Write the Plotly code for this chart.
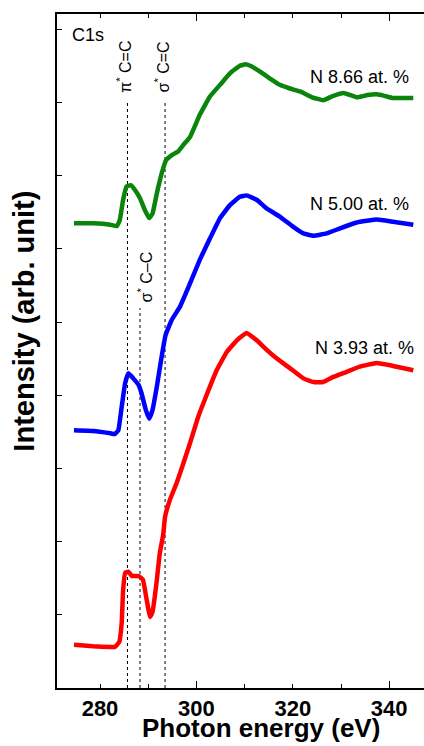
import plotly.graph_objects as go

# ---- data (arbitrary intensity units, offset spectra) ----
green_x = [274.6, 278.6, 282.1, 283.5, 284.1, 284.8, 285.5, 286.4, 287.3, 288.3, 289.3, 290.2, 290.9,
           291.8, 292.8, 293.7, 294.9, 296.2, 297.3, 298.7, 300.7, 302.8, 304.9, 307.0, 309.0, 310.2,
           311.5, 313.2, 315.2, 317.3, 319.4, 321.5, 324.0, 326.3, 328.4, 330.5, 332.0, 333.3, 335.5,
           337.4, 339.0, 340.8, 343.0, 345.0]
green_y = [6.35, 6.35, 6.33, 6.31, 6.39, 6.67, 6.85, 6.87, 6.80, 6.69, 6.53, 6.42, 6.48,
           6.76, 7.03, 7.21, 7.28, 7.33, 7.42, 7.53, 7.83, 8.08, 8.24, 8.40, 8.50, 8.52,
           8.49, 8.42, 8.33, 8.24, 8.19, 8.15, 8.07, 8.03, 8.09, 8.13, 8.10, 8.07, 8.10,
           8.11, 8.09, 8.06, 8.06, 8.06]

blue_x = [274.6, 278.6, 282.1, 283.1, 283.8, 284.5, 285.2, 285.9, 286.9, 288.0, 288.6, 289.5, 290.2,
          290.9, 291.8, 292.8, 293.6, 294.9, 296.6, 298.7, 300.7, 302.8, 304.9, 307.0, 309.0, 310.4,
          312.5, 314.6, 317.3, 320.1, 322.2, 324.3, 327.0, 329.8, 333.3, 337.4, 340.8, 345.0]
blue_y = [3.52, 3.51, 3.48, 3.47, 3.52, 3.84, 4.16, 4.30, 4.23, 4.14, 4.03, 3.80, 3.68,
          3.80, 4.12, 4.53, 4.82, 5.03, 5.21, 5.53, 5.85, 6.14, 6.42, 6.60, 6.71, 6.73,
          6.67, 6.55, 6.44, 6.30, 6.21, 6.18, 6.21, 6.28, 6.36, 6.40, 6.37, 6.33]

red_x = [274.6, 278.6, 282.1, 283.1, 284.0, 284.5, 284.8, 285.2, 285.9, 286.6, 288.0, 288.9, 289.7,
         290.4, 290.9, 291.8, 292.4, 293.1, 293.5, 294.5, 295.9, 297.3, 298.7, 300.4, 302.1, 304.2,
         306.3, 308.4, 310.4, 312.5, 314.6, 316.7, 319.4, 322.2, 324.3, 326.3, 328.4, 331.2, 333.9,
         337.4, 340.8, 345.0]
red_y = [0.59, 0.57, 0.56, 0.56, 0.63, 0.89, 1.34, 1.57, 1.59, 1.53, 1.53, 1.48, 1.20,
         0.97, 1.04, 1.48, 1.84, 2.09, 2.34, 2.57, 2.80, 3.07, 3.35, 3.71, 4.00, 4.34,
         4.59, 4.75, 4.85, 4.75, 4.62, 4.50, 4.37, 4.23, 4.18, 4.18, 4.25, 4.32, 4.39,
         4.44, 4.40, 4.34]

series_names = ["N 8.66 at. %", "N 5.00 at. %", "N 3.93 at. %"]
series_colors = ["#0b840b", "#0000ff", "#ff0000"]

peak_energies = [285.7, 288.3, 293.5]
peak_line_tops = [8.0, 5.19, 8.0]
peak_labels = ["π<sup>*</sup> C=C", "σ<sup>*</sup> C–C", "σ<sup>*</sup> C=C"]

x_tick_vals = [280, 300, 320, 340]
x_minor_vals = [280, 290, 300, 310, 320, 330, 340]
x_long_tick_vals = [300, 340]
y_tick_vals = [1, 2, 3, 4, 5, 6, 7, 8, 9]

XR = [271.08, 347.22]
YR = [0, 9.208]

FONT = "Liberation Sans, Arial, sans-serif"

fig = go.Figure()

# dotted peak lines
for e, top in zip(peak_energies, peak_line_tops):
    fig.add_trace(go.Scatter(x=[e, e], y=[0, top], mode="lines",
                             line=dict(color="black", width=1, dash="dot"),
                             hoverinfo="skip", showlegend=False))

for xs, ys, c, n in [(green_x, green_y, series_colors[0], series_names[0]),
                     (blue_x, blue_y, series_colors[1], series_names[1]),
                     (red_x, red_y, series_colors[2], series_names[2])]:
    fig.add_trace(go.Scatter(x=xs, y=ys, mode="lines", name=n,
                             line=dict(color=c, width=4.5, shape="spline", smoothing=0.3),
                             showlegend=False))

# invisible trace so the overlay axis (long ticks) is drawn
fig.add_trace(go.Scatter(x=[XR[0]], y=[YR[0]], xaxis="x2", mode="markers",
                         marker=dict(size=1, opacity=0), hoverinfo="skip", showlegend=False))

ann = []
label_pos = [(344.5, 8.35), (344.5, 6.61), (345.6, 4.64)]
for (lx, ly), t in zip(label_pos, series_names):
    ann.append(dict(x=lx, y=ly, text=t, showarrow=False, xanchor="right", yanchor="middle",
                    font=dict(family=FONT, size=18, color="black")))

peak_label_pos = [(285.1, 8.48), (289.3, 5.62), (292.9, 8.48)]
for (px, py), t in zip(peak_label_pos, peak_labels):
    ann.append(dict(x=px, y=py, text=t, showarrow=False, textangle=-90,
                    xanchor="center", yanchor="middle",
                    font=dict(family=FONT, size=16, color="black")))

ann.append(dict(x=273.8, y=8.92, text="C1s", showarrow=False, xanchor="left", yanchor="middle",
                font=dict(family=FONT, size=18, color="black")))

ann.append(dict(xref="paper", yref="paper", x=0.556, y=-0.0845, text="<b>Photon energy (eV)</b>",
                showarrow=False, xanchor="center", yanchor="bottom",
                font=dict(family=FONT, size=26, color="black")))
ann.append(dict(xref="paper", yref="paper", x=-0.09, y=0.545, text="<b>Intensity (arb. unit)</b>",
                showarrow=False, textangle=-90, xanchor="center", yanchor="middle",
                font=dict(family=FONT, size=29, color="black")))

fig.update_layout(
    width=424, height=746,
    margin=dict(l=57, r=0, t=14, b=58),
    paper_bgcolor="white", plot_bgcolor="white",
    annotations=ann,
    xaxis=dict(range=XR, showgrid=False, zeroline=False, showline=True, linecolor="black",
               linewidth=1.5, mirror="ticks", ticks="inside", ticklen=4, tickwidth=1.2,
               tickcolor="black", tickvals=x_tick_vals,
               ticktext=["<b>%d</b>" % v for v in x_tick_vals],
               tickfont=dict(family=FONT, size=22, color="black"),
               minor=dict(tickmode="array", tickvals=x_minor_vals, ticks="inside", ticklen=4,
                          tickwidth=1.2, tickcolor="black", showgrid=False)),
    xaxis2=dict(range=XR, overlaying="x", anchor="y", showgrid=False, zeroline=False,
                showline=True, linecolor="black", linewidth=1.5, mirror="ticks",
                ticks="inside", ticklen=7, tickwidth=1.2, tickcolor="black",
                tickvals=x_long_tick_vals, showticklabels=False),
    yaxis=dict(range=YR, showgrid=False, zeroline=False, showline=True, linecolor="black",
               linewidth=1.5, ticks="inside", ticklen=5, tickwidth=1.2, tickcolor="black",
               tickvals=y_tick_vals, showticklabels=False),
)

fig.write_html("out.html", config={"displayModeBar": False},
               post_script="document.body.style.margin='0';document.body.style.overflow='hidden';")
